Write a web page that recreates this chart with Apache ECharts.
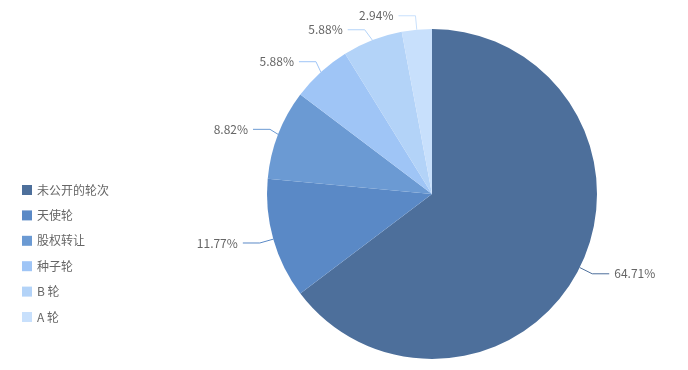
<!DOCTYPE html>
<html><head><meta charset="utf-8">
<script src="https://cdn.jsdelivr.net/npm/echarts@6/dist/echarts.min.js"></script>
<style>html,body{margin:0;padding:0;background:#fff}#c{width:688px;height:370px}</style>
</head><body><div id="c"></div>
<script>
const categories = ['未公开的轮次','天使轮','股权转让','种子轮','B 轮','A 轮'];
const values = [22, 4, 3, 2, 2, 1];
const colors = ['#4d6f9b','#5a89c6','#6b9ad3','#9fc5f6','#b3d3f8','#c8e0fc'];
const chart = echarts.init(document.getElementById('c'));
chart.setOption({
  animation: false,
  color: colors,
  legend: {
    orient: 'vertical', left: 17, top: 178,
    itemWidth: 10, itemHeight: 10, itemGap: 11.4,
    icon: 'rect',
    textStyle: { color: '#666', fontSize: 12, lineHeight: 14, fontFamily: 'Noto Sans CJK SC' },
    data: categories
  },
  series: [{
    type: 'pie',
    center: [432, 194], radius: 165,
    startAngle: 90, clockwise: true,
    label: { formatter: '{d}%', color: '#666', fontSize: 12, fontFamily: 'Noto Sans CJK SC' },
    labelLine: { length: 14, length2: 17, lineStyle: { width: 1 } },
    data: categories.map((n, i) => ({ name: n, value: values[i] }))
  }]
});
</script></body></html>
